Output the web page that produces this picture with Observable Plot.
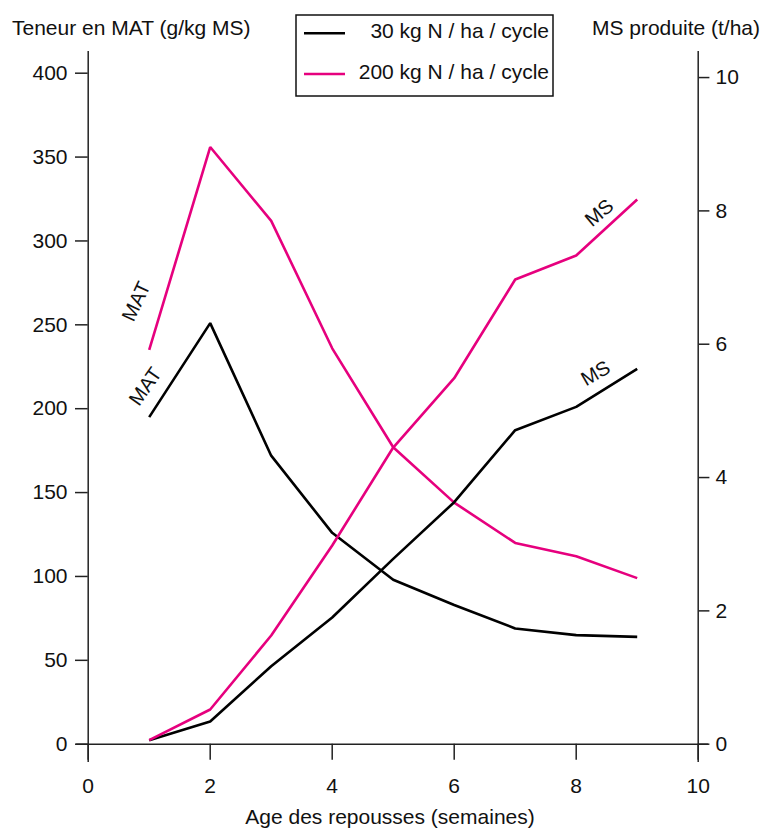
<!DOCTYPE html>
<html>
<head>
<meta charset="utf-8">
<script src="https://cdn.jsdelivr.net/npm/d3@7"></script>
<script src="https://cdn.jsdelivr.net/npm/@observablehq/plot@0.6"></script>
<style>
  html, body { margin: 0; padding: 0; background: #fff; }
  #wrap { position: relative; width: 764px; height: 828px; }
  #wrap svg { position: absolute; left: 0; top: 0; }
</style>
</head>
<body>
<div id="wrap"></div>
<script>
// ---- data ----
const weeks = [1, 2, 3, 4, 5, 6, 7, 8, 9];
const mat30 = [195, 251, 172, 126, 98, 83, 69, 65, 64];
const mat200 = [235, 356, 312, 236, 177, 144, 120, 112, 99];
const ms30 = [0.06, 0.34, 1.17, 1.9, 2.78, 3.63, 4.71, 5.06, 5.63];
const ms200 = [0.06, 0.52, 1.63, 2.98, 4.45, 5.49, 6.97, 7.33, 8.17];
const seriesNames = ["30 kg N / ha / cycle", "200 kg N / ha / cycle"];
const seriesColors = ["#000000", "#e6007e"];
const leftTicks = [0, 50, 100, 150, 200, 250, 300, 350, 400];
const rightTicks = [0, 2, 4, 6, 8, 10];
const xTicks = [0, 2, 4, 6, 8, 10];
const leftTitle = "Teneur en MAT (g/kg MS)";
const rightTitle = "MS produite (t/ha)";
const xTitle = "Age des repousses (semaines)";
const curveLabels = [
  {x: 0.79, v: 263.9, axis: "left", text: "MAT", rotate: -65},
  {x: 0.94, v: 213.2, axis: "left", text: "MAT", rotate: -55},
  {x: 8.38, v: 7.97, axis: "right", text: "MS", rotate: -40},
  {x: 8.32, v: 5.56, axis: "right", text: "MS", rotate: -30}
];

// right axis (t/ha) expressed in left-axis units: 10 t/ha sits at 397.4 g/kg
const K = 397.4 / 10;
const FONT = "'Liberation Sans', Arial, Helvetica, sans-serif";
const FS = 21;

const rows = [];
weeks.forEach((w, i) => {
  rows.push({week: w, y: mat30[i], series: seriesNames[0], kind: "MAT"});
  rows.push({week: w, y: mat200[i], series: seriesNames[1], kind: "MAT"});
  rows.push({week: w, y: ms30[i] * K, series: seriesNames[0], kind: "MS"});
  rows.push({week: w, y: ms200[i] * K, series: seriesNames[1], kind: "MS"});
});
const labelRows = curveLabels.map(d => ({...d, y: d.axis === "right" ? d.v * K : d.v}));

const chart = Plot.plot({
  width: 764,
  height: 828,
  marginLeft: 87.7,
  marginRight: 66.3,
  marginTop: 72.7,
  marginBottom: 84.3,
  style: {fontFamily: FONT, fontSize: FS + "px", background: "#fff", overflow: "visible"},
  x: {domain: [0, 10]},
  y: {domain: [0, 400]},
  color: {domain: seriesNames, range: seriesColors},
  marks: [
    Plot.ruleX([0, 10], {y1: -10.9, y2: 412.9, stroke: "#222", strokeWidth: 1.5}),
    Plot.ruleY([0], {x1: -0.19, x2: 10.17, stroke: "#222", strokeWidth: 1.5}),
    Plot.axisY({anchor: "left", ticks: leftTicks, tickSize: 12.7, tickPadding: 8, label: null,
      fontSize: FS, stroke: "#222", strokeWidth: 1.5, fill: "#111"}),
    Plot.axisY({anchor: "right", ticks: rightTicks.map(t => t * K), tickSize: 10.7, tickPadding: 6.6,
      tickFormat: d => String(Math.round(d / K)), label: null,
      fontSize: FS, stroke: "#222", strokeWidth: 1.5, fill: "#111"}),
    Plot.axisX({anchor: "bottom", ticks: xTicks, tickSize: 16, tickPadding: 17.4, label: null,
      fontSize: FS, stroke: "#222", strokeWidth: 1.5, fill: "#111"}),
    Plot.line(rows, {x: "week", y: "y", z: d => d.series + d.kind, stroke: "series",
      strokeWidth: 2.6, strokeLinejoin: "miter", strokeLinecap: "butt"}),
    Plot.text(labelRows, {x: "x", y: "y", text: "text", rotate: "rotate",
      fontSize: 20, fill: "#111"})
  ]
});

const wrap = document.getElementById("wrap");
wrap.appendChild(chart);

// overlay: axis titles and legend
const ov = d3.select(wrap).append("svg")
  .attr("width", 764).attr("height", 828)
  .style("pointer-events", "none")
  .attr("font-family", FONT).attr("font-size", FS).attr("fill", "#111");

ov.append("text").attr("x", 12).attr("y", 35).text(leftTitle);
ov.append("text").attr("x", 760).attr("y", 35).attr("text-anchor", "end").text(rightTitle);
ov.append("text").attr("x", 390).attr("y", 824).attr("text-anchor", "middle").text(xTitle);

const lg = ov.append("g");
lg.append("rect").attr("x", 296).attr("y", 15).attr("width", 257).attr("height", 81)
  .attr("fill", "#fff").attr("stroke", "#111").attr("stroke-width", 1.5);
seriesNames.forEach((name, i) => {
  const cy = 33.3 + i * 40.7;
  lg.append("line").attr("x1", 304).attr("x2", 345).attr("y1", cy).attr("y2", cy)
    .attr("stroke", seriesColors[i]).attr("stroke-width", 2.6);
  lg.append("text").attr("x", 549).attr("y", cy + 4.7).attr("text-anchor", "end").text(name);
});
</script>
</body>
</html>
